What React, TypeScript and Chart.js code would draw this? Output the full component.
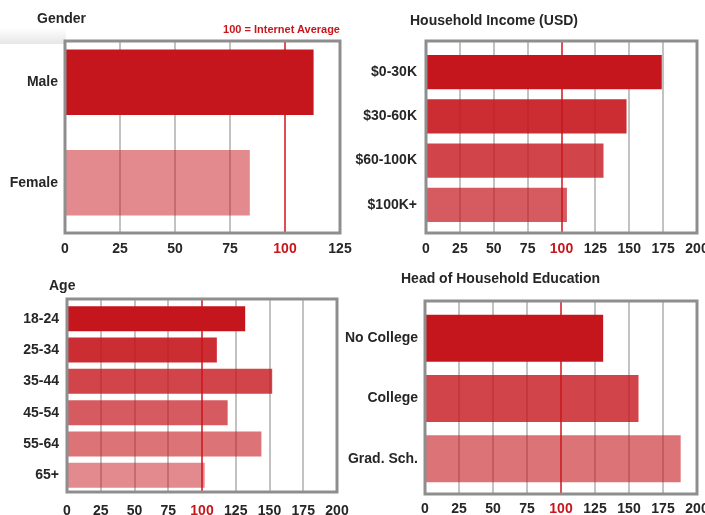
import React, { useEffect, useRef } from 'react';
import { Chart, registerables } from 'chart.js';
Chart.register(...registerables);

// ---- data ----
const genderLabels = ['Male', 'Female'];
const genderValues = [113, 84];
const incomeLabels = ['$0-30K', '$30-60K', '$60-100K', '$100K+'];
const incomeValues = [174, 148, 131, 104];
const ageLabels = ['18-24', '25-34', '35-44', '45-54', '55-64', '65+'];
const ageValues = [132, 111, 152, 119, 144, 102];
const eduLabels = ['No College', 'College', 'Grad. Sch.'];
const eduValues = [131, 157, 188];
const genderMax = 125;
const otherMax = 200;
const tickStep = 25;
const averageValue = 100;

// ---- styles ----
const FONT = "'Liberation Sans', Arial, Helvetica, sans-serif";
const RED = '197,22,29';
const TEXT = '#262626';

type PanelProps = {
  labels: string[];
  values: number[];
  max: number;
  canvas: [number, number, number, number]; // left, top, w, h (page)
  box: [number, number, number, number]; // x1, y1, x2, y2 (page)
  area: [number, number]; // top, bottom (page)
  yPad: number;
  xPad: number;
  alphas: number[];
  barPct: number;
};

function Panel(p: PanelProps) {
  const ref = useRef<HTMLCanvasElement | null>(null);
  useEffect(() => {
    if (!ref.current) return;
    const [cx, cy, cw, ch] = p.canvas;
    const [bx1, by1, bx2, by2] = p.box;
    const boxTop = by1 - cy;
    const boxBottom = by2 - cy;
    const boxLeft = bx1 - cx;
    const boxRight = bx2 - cx;
    const yWidth = bx1 - cx;
    const xHeight = cy + ch - p.area[1];
    const padTop = p.area[0] - cy;
    const padRight = cx + cw - bx2;

    const framePlugin = {
      id: 'frame',
      beforeDatasetsDraw(chart: any) {
        const ctx = chart.ctx;
        const xs = chart.scales.x;
        ctx.save();
        xs.ticks.forEach((t: any) => {
          if (t.value <= xs.min || t.value >= xs.max) return;
          const px = Math.round(xs.getPixelForValue(t.value));
          ctx.beginPath();
          if (t.value === averageValue) {
            ctx.strokeStyle = '#d0141c';
            ctx.lineWidth = 1.5;
          } else {
            ctx.strokeStyle = '#c2c2c2';
            ctx.lineWidth = 2;
          }
          ctx.moveTo(px, boxTop);
          ctx.lineTo(px, boxBottom);
          ctx.stroke();
        });
        ctx.restore();
      },
      afterDatasetsDraw(chart: any) {
        const ctx = chart.ctx;
        ctx.save();
        ctx.strokeStyle = '#8e8e8e';
        ctx.lineWidth = 3;
        ctx.strokeRect(boxLeft, boxTop, boxRight - boxLeft, boxBottom - boxTop);
        ctx.restore();
      },
    };

    const chart = new Chart(ref.current, {
      type: 'bar',
      data: {
        labels: p.labels,
        datasets: [
          {
            data: p.values,
            backgroundColor: p.alphas.map((a) => `rgba(${RED},${a})`),
            borderWidth: 0,
            barPercentage: p.barPct,
            categoryPercentage: 1,
          },
        ],
      },
      options: {
        indexAxis: 'y',
        responsive: false,
        animation: false,
        devicePixelRatio: 1,
        layout: { padding: { top: padTop, right: padRight, left: 0, bottom: 0 } },
        plugins: { legend: { display: false }, tooltip: { enabled: false }, title: { display: false } },
        scales: {
          x: {
            type: 'linear',
            min: 0,
            max: p.max,
            grid: { display: false, drawTicks: false },
            border: { display: false },
            ticks: {
              stepSize: tickStep,
              padding: p.xPad,
              maxRotation: 0,
              autoSkip: false,
              font: { family: FONT, size: 14, weight: 'bold' },
              color: (c: any) => (c.tick && c.tick.value === averageValue ? '#c8161d' : TEXT),
            },
            afterFit: (s: any) => {
              s.height = xHeight;
              s.paddingLeft = 0;
              s.paddingRight = 0;
            },
          },
          y: {
            type: 'category',
            grid: { display: false, drawTicks: false },
            border: { display: false },
            ticks: {
              padding: p.yPad,
              font: { family: FONT, size: 14, weight: 'bold' },
              color: TEXT,
            },
            afterFit: (s: any) => {
              s.width = yWidth;
              s.paddingTop = 0;
              s.paddingBottom = 0;
            },
          },
        },
      } as any,
      plugins: [framePlugin],
    });
    return () => chart.destroy();
  }, []);
  const [cx, cy, cw, ch] = p.canvas;
  return (
    <canvas
      ref={ref}
      width={cw}
      height={ch}
      style={{ position: 'absolute', left: cx, top: cy, width: cw, height: ch }}
    />
  );
}

const titleStyle: React.CSSProperties = {
  position: 'absolute',
  fontFamily: FONT,
  fontWeight: 'bold',
  fontSize: 14,
  lineHeight: '16px',
  color: TEXT,
  whiteSpace: 'nowrap',
};

export default function App() {
  return (
    <div
      style={{
        position: 'absolute',
        left: 0,
        top: 0,
        width: 705,
        height: 515,
        background: '#fff',
        overflow: 'hidden',
      }}
    >
      <div
        style={{
          position: 'absolute',
          left: 0,
          top: 28,
          width: 66,
          height: 16,
          background: 'linear-gradient(to bottom, rgba(255,255,255,1), #e6e6e6)',
        }}
      />
      <Panel
        labels={genderLabels}
        values={genderValues}
        max={genderMax}
        canvas={[0, 0, 352, 260]}
        box={[65, 41, 340, 233]}
        area={[32, 233]}
        yPad={7}
        xPad={8}
        alphas={[1, 0.5]}
        barPct={0.65}
      />
      <Panel
        labels={incomeLabels}
        values={incomeValues}
        max={otherMax}
        canvas={[330, 0, 375, 260]}
        box={[426, 41, 697, 233]}
        area={[50, 227]}
        yPad={9}
        xPad={14}
        alphas={[1, 0.9, 0.8, 0.7]}
        barPct={0.77}
      />
      <Panel
        labels={ageLabels}
        values={ageValues}
        max={otherMax}
        canvas={[0, 260, 352, 255]}
        box={[67, 299, 337, 492]}
        area={[303, 491]}
        yPad={8}
        xPad={12}
        alphas={[1, 0.9, 0.8, 0.7, 0.6, 0.5]}
        barPct={0.8}
      />
      <Panel
        labels={eduLabels}
        values={eduValues}
        max={otherMax}
        canvas={[330, 260, 375, 255]}
        box={[425, 301, 697, 494]}
        area={[308, 489]}
        yPad={7}
        xPad={12}
        alphas={[1, 0.8, 0.6]}
        barPct={0.78}
      />
      <div style={{ ...titleStyle, left: 37, top: 10 }}>Gender</div>
      <div style={{ ...titleStyle, left: 410, top: 12 }}>Household Income (USD)</div>
      <div style={{ ...titleStyle, left: 49, top: 277 }}>Age</div>
      <div style={{ ...titleStyle, left: 401, top: 270 }}>Head of Household Education</div>
      <div
        style={{
          ...titleStyle,
          fontSize: 11,
          lineHeight: '13px',
          color: '#c8161d',
          right: 705 - 340,
          top: 23,
        }}
      >
        100 = Internet Average
      </div>
    </div>
  );
}
